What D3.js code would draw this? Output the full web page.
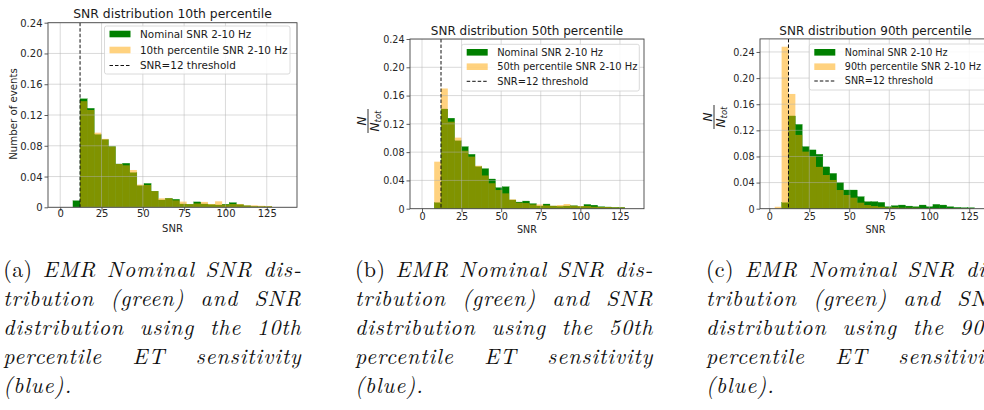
<!DOCTYPE html>
<html><head><meta charset="utf-8">
<script src="https://cdn.jsdelivr.net/npm/d3@7"></script>
<style>body{margin:0;background:#fff;} svg{display:block;}</style>
</head><body>
<svg id="chart" width="984" height="410"></svg>
<script>
// ---------- data ----------
const binEdges = [3.4, 7.7, 12.0, 16.3, 20.6, 24.9, 29.2, 33.5, 37.8, 42.1, 46.4, 50.7, 55.0, 59.3, 63.6, 67.9, 72.2, 76.5, 80.8, 85.1, 89.4, 93.7, 98.0, 102.3, 106.6, 110.9, 115.2, 119.5, 123.8, 128.1];

const nominalA = [0, 0.0085, 0.141, 0.1287, 0.0945, 0.088, 0.079, 0.0563, 0.0572, 0.045, 0.028, 0.031, 0.021, 0.0095, 0.0117, 0.0104, 0.0043, 0.004, 0.007, 0.0043, 0.0035, 0.003, 0.004, 0.006, 0.0035, 0.002, 0.0013, 0.001, 0.001];
const pct10 = [0, 0, 0.138, 0.1265, 0.097, 0.089, 0.079, 0.0563, 0.0546, 0.0485, 0.0295, 0.029, 0.021, 0.0117, 0.0117, 0.009, 0.0074, 0.004, 0.005, 0.007, 0.0043, 0.0078, 0.0035, 0.0043, 0.0043, 0.0026, 0.0026, 0.002, 0.0017];

const nominalB = [0, 0.0085, 0.141, 0.128, 0.096, 0.0877, 0.0769, 0.0594, 0.0566, 0.042, 0.0297, 0.031, 0.0123, 0.0094, 0.0108, 0.0071, 0.0038, 0.0066, 0.0038, 0.0033, 0.0038, 0.0042, 0.0033, 0.006, 0.005, 0.0028, 0.0024, 0.0019, 0.0019];
const pct50 = [0, 0.0665, 0.170, 0.123, 0.1005, 0.082, 0.0736, 0.0608, 0.047, 0.036, 0.0264, 0.0217, 0.0132, 0.0085, 0.008, 0.006, 0.006, 0.0047, 0.0042, 0.0052, 0.0066, 0.0042, 0.0038, 0.0038, 0.0028, 0.0024, 0.0024, 0.0019, 0.0019];

const nominalC = [0, 0.0092, 0.142, 0.129, 0.095, 0.090, 0.0833, 0.064, 0.054, 0.040, 0.0286, 0.0286, 0.0184, 0.0107, 0.0107, 0.0097, 0.003, 0.0046, 0.0056, 0.004, 0.003, 0.0056, 0.003, 0.0066, 0.0056, 0.003, 0.002, 0.0015, 0.0015];
const pct90 = [0.003, 0.248, 0.1757, 0.113, 0.0874, 0.08, 0.064, 0.0516, 0.044, 0.0286, 0.021, 0.0169, 0.0092, 0.0056, 0.0041, 0.003, 0.002, 0.002, 0.0015, 0.0015, 0.0015, 0.001, 0.001, 0.001, 0.001, 0.0008, 0.0008, 0.0008, 0.0005];

const threshold = 12;
const xTicks = [0, 25, 50, 75, 100, 125];
const yTicks = [0, 0.04, 0.08, 0.12, 0.16, 0.20, 0.24];
const titles = ["SNR distribution 10th percentile", "SNR distribution 50th percentile", "SNR distribution 90th percentile"];
const legendNominal = "Nominal SNR 2-10 Hz";
const legendPct = ["10th percentile SNR 2-10 Hz", "50th percentile SNR 2-10 Hz", "90th percentile SNR 2-10 Hz"];
const legendThreshold = "SNR=12 threshold";
const xLabel = "SNR";
const yLabelA = "Number of events";

const captions = [
  [[["(a)", 1], ["EMR"], ["Nominal"], ["SNR"], ["dis-"]],
   [["tribution"], ["(green)"], ["and"], ["SNR"]],
   [["distribution"], ["using"], ["the"], ["10th"]],
   [["percentile"], ["ET"], ["sensitivity"]],
   [["(blue)."]]],
  [[["(b)", 1], ["EMR"], ["Nominal"], ["SNR"], ["dis-"]],
   [["tribution"], ["(green)"], ["and"], ["SNR"]],
   [["distribution"], ["using"], ["the"], ["50th"]],
   [["percentile"], ["ET"], ["sensitivity"]],
   [["(blue)."]]],
  [[["(c)", 1], ["EMR"], ["Nominal"], ["SNR"], ["dis-"]],
   [["tribution"], ["(green)"], ["and"], ["SNR"]],
   [["distribution"], ["using"], ["the"], ["90th"]],
   [["percentile"], ["ET"], ["sensitivity"]],
   [["(blue)."]]]
];

// ---------- layout ----------
const panels = [
  {nom: nominalA, pct: pct10, left: 48, right: 297, top: 22.7, bottom: 207.3, xDom: [-7.4, 143.3], yMax: 0.24,
   fs: 10, titleFs: 12.4, titleY: 17.5, tickY: 217.5, labelY: 232,
   leg: {x: 104.5, y: 26, w: 185.5, h: 48, rows: [34, 50, 65.5], fs: 10.4},
   ylab: {type: "text", x: 13, y: 114}, capX: 3.3},
  {nom: nominalB, pct: pct50, left: 410, right: 644, top: 39, bottom: 208.7, xDom: [-7.58, 140.2], yMax: 0.24,
   fs: 9.6, titleFs: 12, titleY: 35, tickY: 220, labelY: 233,
   leg: {x: 461.7, y: 44.3, w: 177.6, h: 46.7, rows: [52.3, 66.7, 81.3], fs: 9.9},
   ylab: {type: "frac", x: 368, y: 121}, capX: 355},
  {nom: nominalC, pct: pct90, left: 760, right: 991, top: 38.9, bottom: 208.7, xDom: [-5.81, 138.6], yMax: 0.26,
   fs: 9.6, titleFs: 12, titleY: 35, tickY: 220, labelY: 233,
   leg: {x: 809.3, y: 44, w: 180, h: 46, rows: [52.3, 66.7, 81], fs: 9.6},
   ylab: {type: "frac", x: 714, y: 117}, capX: 706}
];

const svg = d3.select("#chart");
const GREEN = "#008000", ORANGE = "#FFA500";
const FONT = "'DejaVu Sans', sans-serif";
const CAPFONT = "'Latin Modern Roman', 'Liberation Serif', serif";

panels.forEach((p, pi) => {
  const x = d3.scaleLinear().domain(p.xDom).range([p.left, p.right]);
  const y = d3.scaleLinear().domain([0, p.yMax]).range([p.bottom, p.top]);
  const g = svg.append("g");
  const clipId = "clip" + pi;
  svg.append("clipPath").attr("id", clipId).append("rect")
    .attr("x", p.left).attr("y", p.top).attr("width", p.right - p.left).attr("height", p.bottom - p.top);
  const plot = g.append("g").attr("clip-path", `url(#${clipId})`);

  const bins = d3.range(binEdges.length - 1).map(i => ({x0: binEdges[i], x1: binEdges[i + 1], nom: p.nom[i], pct: p.pct[i]}));
  plot.selectAll("rect.nom").data(bins.filter(b => b.nom > 0)).join("rect").attr("class", "nom")
    .attr("x", d => x(d.x0)).attr("width", d => x(d.x1) - x(d.x0))
    .attr("y", d => y(d.nom)).attr("height", d => y(0) - y(d.nom))
    .attr("fill", GREEN).attr("stroke", GREEN).attr("stroke-width", 0.3);
  plot.selectAll("rect.pct").data(bins.filter(b => b.pct > 0)).join("rect").attr("class", "pct")
    .attr("x", d => x(d.x0)).attr("width", d => x(d.x1) - x(d.x0))
    .attr("y", d => y(d.pct)).attr("height", d => y(0) - y(d.pct))
    .attr("fill", ORANGE).attr("fill-opacity", 0.5);

  plot.selectAll("line.gx").data(xTicks).join("line")
    .attr("x1", d => x(d)).attr("x2", d => x(d)).attr("y1", p.top).attr("y2", p.bottom)
    .attr("stroke", "#b0b0b0").attr("stroke-opacity", 0.6).attr("stroke-width", 0.8);
  const yt = yTicks.filter(v => v <= p.yMax + 1e-9);
  plot.selectAll("line.gy").data(yt).join("line")
    .attr("x1", p.left).attr("x2", p.right).attr("y1", d => y(d)).attr("y2", d => y(d))
    .attr("stroke", "#b0b0b0").attr("stroke-opacity", 0.6).attr("stroke-width", 0.8);

  plot.append("line").attr("x1", x(threshold)).attr("x2", x(threshold)).attr("y1", p.top).attr("y2", p.bottom)
    .attr("stroke", "#111").attr("stroke-width", 1).attr("stroke-dasharray", "3.5,2");

  const xAxis = d3.axisBottom(x).tickValues(xTicks).tickSize(3.5).tickPadding(2).tickFormat(d3.format("d"));
  const yAxis = d3.axisLeft(y).tickValues(yt).tickSize(3.5).tickPadding(2).tickFormat(d => d === 0 ? "0" : d3.format(".2f")(d));
  const gx = g.append("g").attr("transform", `translate(0,${p.bottom})`).call(xAxis);
  const gy = g.append("g").attr("transform", `translate(${p.left},0)`).call(yAxis);
  [gx, gy].forEach(a => {
    a.select(".domain").remove();
    a.selectAll(".tick line").attr("stroke", "#333").attr("stroke-width", 0.8);
    a.selectAll("text").attr("fill", "#262626").style("font-family", FONT).style("font-size", p.fs + "px");
  });
  gx.selectAll(".tick text").attr("dy", null).attr("y", p.tickY - p.bottom);
  gy.selectAll(".tick text").attr("dy", "0.35em");

  g.append("rect").attr("x", p.left).attr("y", p.top).attr("width", p.right - p.left).attr("height", p.bottom - p.top)
    .attr("fill", "none").attr("stroke", "#444").attr("stroke-width", 0.9);

  g.append("text").attr("x", (p.left + p.right) / 2).attr("y", p.titleY).attr("text-anchor", "middle")
    .style("font-family", FONT).style("font-size", p.titleFs + "px").attr("fill", "#1a1a1a").text(titles[pi]);
  g.append("text").attr("x", (p.left + p.right) / 2).attr("y", p.labelY).attr("text-anchor", "middle")
    .style("font-family", FONT).style("font-size", p.fs + "px").attr("fill", "#262626").text(xLabel);

  if (p.ylab.type === "text") {
    g.append("text").attr("transform", `translate(${p.ylab.x + 3.5},${p.ylab.y}) rotate(-90)`).attr("text-anchor", "middle")
      .style("font-family", FONT).style("font-size", "10.2px").attr("fill", "#262626").text(yLabelA);
  } else {
    const fg = g.append("g").attr("transform", `translate(${p.ylab.x},${p.ylab.y}) rotate(-90)`);
    fg.append("text").attr("x", 0).attr("y", -2).attr("text-anchor", "middle")
      .style("font-family", FONT).style("font-style", "italic").style("font-size", "12px").attr("fill", "#1a1a1a").text("N");
    fg.append("line").attr("x1", -12).attr("x2", 12).attr("y1", 0).attr("y2", 0).attr("stroke", "#1a1a1a").attr("stroke-width", 0.9);
    const den = fg.append("text").attr("x", 0).attr("y", 10.5).attr("text-anchor", "middle")
      .style("font-family", FONT).style("font-style", "italic").style("font-size", "12px").attr("fill", "#1a1a1a");
    den.append("tspan").text("N");
    den.append("tspan").attr("dy", 2.5).style("font-size", "8.5px").text("tot");
  }

  const L = p.leg;
  const lg = g.append("g");
  lg.append("rect").attr("x", L.x).attr("y", L.y).attr("width", L.w).attr("height", L.h).attr("rx", 2)
    .attr("fill", "#fff").attr("fill-opacity", 0.85).attr("stroke", "#d0d0d0").attr("stroke-width", 0.8);
  const px = L.x + 5, pw = 21, tx = L.x + 35.5;
  lg.append("rect").attr("x", px).attr("y", L.rows[0] - 3.3).attr("width", pw).attr("height", 6.6).attr("fill", GREEN);
  lg.append("rect").attr("x", px).attr("y", L.rows[1] - 3.3).attr("width", pw).attr("height", 6.6).attr("fill", ORANGE).attr("fill-opacity", 0.5);
  lg.append("line").attr("x1", px).attr("x2", px + pw).attr("y1", L.rows[2]).attr("y2", L.rows[2])
    .attr("stroke", "#111").attr("stroke-width", 1).attr("stroke-dasharray", "3.5,2");
  [legendNominal, legendPct[pi], legendThreshold].forEach((t, i) => {
    lg.append("text").attr("x", tx).attr("y", L.rows[i]).attr("dy", "0.35em")
      .style("font-family", FONT).style("font-size", L.fs + "px").attr("fill", "#1a1a1a").text(t);
  });
});

// ---------- captions (justified) ----------
const CAP_W = 298.4, CAP_Y0 = 276.5, CAP_DY = 29.1;
captions.forEach((lines, ci) => {
  const x0 = panels[ci].capX;
  const cg = svg.append("g");
  lines.forEach((words, li) => {
    const yB = CAP_Y0 + li * CAP_DY;
    const nodes = words.map(w => cg.append("text").attr("y", yB)
      .style("font-family", CAPFONT)
      .style("font-style", w[1] ? "normal" : "italic")
      .style("font-size", "22px").style("letter-spacing", w[1] ? "0.3px" : "0.9px")
      .attr("fill", "#111").text(w[0]));
    const widths = nodes.map(n => n.node().getComputedTextLength());
    const total = d3.sum(widths);
    const last = li === lines.length - 1;
    const gap = (!last && words.length > 1) ? (CAP_W - total) / (words.length - 1) : 7;
    let cx = x0;
    nodes.forEach((n, i) => { n.attr("x", cx); cx += widths[i] + gap; });
  });
});
</script>
</body></html>
